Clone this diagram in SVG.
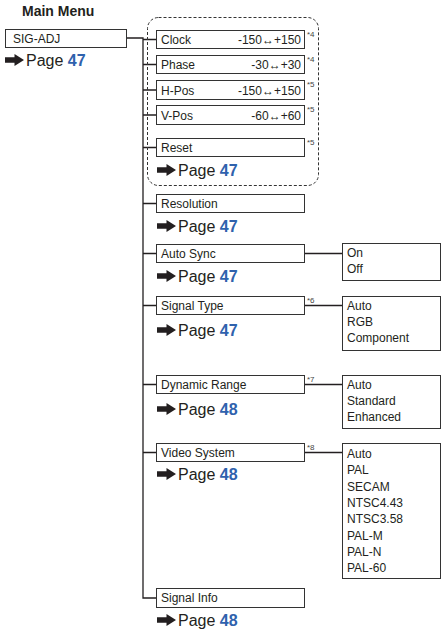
<svg xmlns="http://www.w3.org/2000/svg" width="441" height="634" viewBox="0 0 441 634">
<defs>
<style>
text{font-family:"Liberation Sans",Arial,sans-serif;fill:#231f20}
.title{font-size:14px;font-weight:bold}
.lbl{font-size:12px}
.pg{font-size:16px}
.num{font-weight:bold;fill:#2f62ad}
.fn{font-size:8px;fill:#444}
.box{fill:#fff;stroke:#333;stroke-width:1}
.con{fill:none;stroke:#231f20;stroke-width:1.3}
.dash{fill:none;stroke:#333;stroke-width:1;stroke-dasharray:3,2}
</style>
<symbol id="arr" viewBox="0 0 19 12" overflow="visible">
<path d="M0,3.2 H9.5 V0 L19,6 L9.5,12 V8.8 H0 Z" fill="#231f20"/>
</symbol>
</defs>
<rect width="441" height="634" fill="#fff"/>

<g id="connectors">
<path class="con" d="M127,38 H143 V598 H156"/>
<path class="con" d="M143,39.5 H156 M143,64.5 H156 M143,90 H156 M143,115 H156 M143,147.5 H156 M143,203.5 H156 M143,253.5 H156 M143,305.5 H156 M143,384.5 H156 M143,452.5 H156"/>
<path class="con" d="M305,253.5 H342 M305,305.5 H342 M305,384.5 H342 M305,452.5 H342"/>
</g>

<g id="main">
<text class="title" x="22" y="16">Main Menu</text>
<rect class="box" x="5.5" y="29.5" width="121" height="18"/>
<text class="lbl" x="13" y="43">SIG-ADJ</text>
<use href="#arr" x="5" y="54" width="19" height="12"/>
<text class="pg" x="26" y="66">Page <tspan class="num">47</tspan></text>
</g>

<rect class="dash" x="147.5" y="17.5" width="171" height="168" rx="11"/>

<g id="clock">
<rect class="box" x="156.5" y="30.5" width="148" height="18"/>
<text class="lbl" x="161" y="44">Clock</text>
<text class="lbl" x="301" y="44" text-anchor="end">-150↔+150</text>
<text class="fn" x="307" y="37">*4</text>
</g>
<g id="phase">
<rect class="box" x="156.5" y="55.5" width="148" height="18"/>
<text class="lbl" x="161" y="69">Phase</text>
<text class="lbl" x="301" y="69" text-anchor="end">-30↔+30</text>
<text class="fn" x="307" y="62">*4</text>
</g>
<g id="hpos">
<rect class="box" x="156.5" y="80.5" width="148" height="19"/>
<text class="lbl" x="161" y="94.5">H-Pos</text>
<text class="lbl" x="301" y="94.5" text-anchor="end">-150↔+150</text>
<text class="fn" x="307" y="87">*5</text>
</g>
<g id="vpos">
<rect class="box" x="156.5" y="105.5" width="148" height="19"/>
<text class="lbl" x="161" y="119.5">V-Pos</text>
<text class="lbl" x="301" y="119.5" text-anchor="end">-60↔+60</text>
<text class="fn" x="307" y="112">*5</text>
</g>
<g id="reset">
<rect class="box" x="156.5" y="138.5" width="148" height="18"/>
<text class="lbl" x="161" y="152">Reset</text>
<text class="fn" x="307" y="145">*5</text>
<use href="#arr" x="157" y="164" width="19" height="12"/>
<text class="pg" x="178" y="176">Page <tspan class="num">47</tspan></text>
</g>
<g id="resolution">
<rect class="box" x="156.5" y="194.5" width="148" height="18"/>
<text class="lbl" x="161" y="208">Resolution</text>
<use href="#arr" x="157" y="220" width="19" height="12"/>
<text class="pg" x="178" y="232">Page <tspan class="num">47</tspan></text>
</g>
<g id="autosync">
<rect class="box" x="156.5" y="244.5" width="148" height="18"/>
<text class="lbl" x="161" y="258">Auto Sync</text>
<use href="#arr" x="157" y="270" width="19" height="12"/>
<text class="pg" x="178" y="282">Page <tspan class="num">47</tspan></text>
</g>
<g id="autosync-opts">
<rect class="box" x="342.5" y="243.5" width="98" height="37"/>
<text class="lbl" x="347" y="257">On</text>
<text class="lbl" x="347" y="273">Off</text>
</g>
<g id="signaltype">
<rect class="box" x="156.5" y="296.5" width="148" height="18"/>
<text class="lbl" x="161" y="310">Signal Type</text>
<text class="fn" x="307" y="303">*6</text>
<use href="#arr" x="157" y="324" width="19" height="12"/>
<text class="pg" x="178" y="336">Page <tspan class="num">47</tspan></text>
</g>
<g id="signaltype-opts">
<rect class="box" x="342.5" y="296.5" width="98" height="54"/>
<text class="lbl" x="347" y="310">Auto</text>
<text class="lbl" x="347" y="326">RGB</text>
<text class="lbl" x="347" y="342">Component</text>
</g>
<g id="dynrange">
<rect class="box" x="156.5" y="375.5" width="148" height="18"/>
<text class="lbl" x="161" y="389">Dynamic Range</text>
<text class="fn" x="307" y="382">*7</text>
<use href="#arr" x="157" y="403" width="19" height="12"/>
<text class="pg" x="178" y="415">Page <tspan class="num">48</tspan></text>
</g>
<g id="dynrange-opts">
<rect class="box" x="342.5" y="375.5" width="98" height="53"/>
<text class="lbl" x="347" y="389">Auto</text>
<text class="lbl" x="347" y="405">Standard</text>
<text class="lbl" x="347" y="421">Enhanced</text>
</g>
<g id="videosystem">
<rect class="box" x="156.5" y="443.5" width="148" height="18"/>
<text class="lbl" x="161" y="457">Video System</text>
<text class="fn" x="307" y="450">*8</text>
<use href="#arr" x="157" y="468" width="19" height="12"/>
<text class="pg" x="178" y="480">Page <tspan class="num">48</tspan></text>
</g>
<g id="videosystem-opts">
<rect class="box" x="342.5" y="443.5" width="98" height="135"/>
<text class="lbl" x="347" y="458">Auto</text>
<text class="lbl" x="347" y="474">PAL</text>
<text class="lbl" x="347" y="491">SECAM</text>
<text class="lbl" x="347" y="507">NTSC4.43</text>
<text class="lbl" x="347" y="523">NTSC3.58</text>
<text class="lbl" x="347" y="540">PAL-M</text>
<text class="lbl" x="347" y="556">PAL-N</text>
<text class="lbl" x="347" y="572">PAL-60</text>
</g>
<g id="signalinfo">
<rect class="box" x="156.5" y="588.5" width="148" height="19"/>
<text class="lbl" x="161" y="602">Signal Info</text>
<use href="#arr" x="157" y="614" width="19" height="12"/>
<text class="pg" x="178" y="626">Page <tspan class="num">48</tspan></text>
</g>
</svg>
